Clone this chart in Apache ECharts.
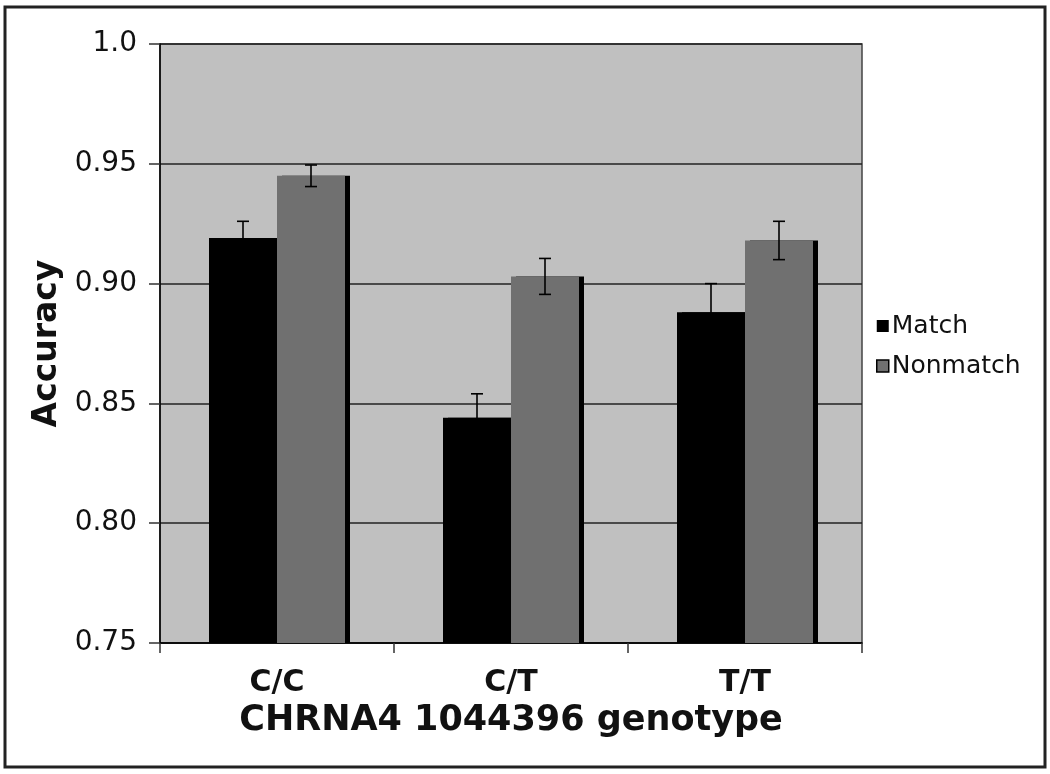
<!DOCTYPE html>
<html>
<head>
<meta charset="utf-8">
<script src="https://cdn.jsdelivr.net/npm/echarts@6/dist/echarts.min.js"></script>
<style>
html,body{margin:0;padding:0;background:#fff;}
#chart{width:1050px;height:774px;}
</style>
</head>
<body>
<div id="chart"></div>
<script>
const categories = ['C/C', 'C/T', 'T/T'];
const seriesNames = ['Match', 'Nonmatch'];
const matchValues = [0.919, 0.844, 0.888];
const matchErrors = [0.007, 0.010, 0.012];
const nonmatchValues = [0.945, 0.903, 0.918];
const nonmatchErrors = [0.0045, 0.0075, 0.008];
const yTicks = { min: 0.75, max: 1.0, interval: 0.05 };
const yTickLabels = { 0.75: '0.75', 0.8: '0.80', 0.85: '0.85', 0.9: '0.90', 0.95: '0.95', 1: '1.0' };

const FONT = 'DejaVu Sans';
const BAR_W = 68;

function errorSeries(name, values, errors, offset) {
  return {
    type: 'custom',
    name: name + ' error',
    z: 5,
    silent: true,
    data: values.map((v, i) => [i, v - errors[i], v + errors[i]]),
    renderItem: function (params, api) {
      const lo = api.coord([api.value(0), api.value(1)]);
      const hi = api.coord([api.value(0), api.value(2)]);
      const x = lo[0] + offset;
      const cap = 6;
      const style = { stroke: '#000', lineWidth: 1.6 };
      return {
        type: 'group',
        children: [
          { type: 'line', shape: { x1: x, y1: lo[1], x2: x, y2: hi[1] }, style: style },
          { type: 'line', shape: { x1: x - cap, y1: hi[1], x2: x + cap, y2: hi[1] }, style: style },
          { type: 'line', shape: { x1: x - cap, y1: lo[1], x2: x + cap, y2: lo[1] }, style: style }
        ]
      };
    }
  };
}

const chart = echarts.init(document.getElementById('chart'), null, { renderer: 'canvas' });
chart.setOption({
  animation: false,
  backgroundColor: '#fff',
  textStyle: { fontFamily: FONT },
  graphic: [{
    type: 'rect',
    shape: { x: 5, y: 7, width: 1040, height: 760 },
    style: { fill: 'none', stroke: '#222', lineWidth: 3 },
    z: 100
  }],
  grid: {
    left: 160, right: 188, top: 44, bottom: 131,
    show: true, backgroundColor: '#c0c0c0', borderColor: '#444', borderWidth: 1.5
  },
  legend: {
    orient: 'vertical',
    left: 871, top: 307,
    itemWidth: 12, itemHeight: 12, itemGap: 12,
    icon: 'rect',
    textStyle: { fontFamily: FONT, fontSize: 25, color: '#111', lineHeight: 28, padding: [0, 0, 0, -2] },
    data: [
      { name: 'Match', itemStyle: { color: '#000', borderWidth: 0, shadowBlur: 0, shadowOffsetX: 0, shadowOffsetY: 0, shadowColor: 'transparent' } },
      { name: 'Nonmatch', itemStyle: { color: '#707070', borderColor: '#000', borderWidth: 1.5, shadowBlur: 0, shadowOffsetX: 0, shadowOffsetY: 0, shadowColor: 'transparent' } }
    ]
  },
  xAxis: {
    type: 'category',
    data: categories,
    name: 'CHRNA4 1044396 genotype',
    nameLocation: 'middle',
    nameGap: 60,
    nameTextStyle: { fontFamily: FONT, fontSize: 35, fontWeight: 'bold', color: '#111' },
    axisLine: { lineStyle: { color: '#000', width: 1.5 } },
    axisTick: { show: true, length: 10, inside: false, alignWithLabel: false, lineStyle: { color: '#333', width: 1.5 } },
    axisLabel: { fontFamily: FONT, fontSize: 30, fontWeight: 'bold', color: '#111', margin: 25 },
    splitLine: { show: false }
  },
  yAxis: {
    type: 'value',
    min: yTicks.min, max: yTicks.max, interval: yTicks.interval,
    name: 'Accuracy',
    nameLocation: 'middle',
    nameGap: 96,
    nameRotate: 90,
    nameTextStyle: { fontFamily: FONT, fontSize: 33, fontWeight: 'bold', color: '#111' },
    axisLine: { show: true, lineStyle: { color: '#000', width: 1.5 } },
    axisTick: { show: true, length: 11, lineStyle: { color: '#333', width: 1.5 } },
    axisLabel: {
      fontFamily: FONT, fontSize: 28, color: '#111', margin: 23,
      formatter: v => yTickLabels[Math.round(v * 100) / 100] || v.toFixed(2)
    },
    splitLine: { show: true, lineStyle: { color: '#222', width: 1.5 } }
  },
  series: [
    {
      type: 'bar', name: 'Match', data: matchValues,
      barWidth: BAR_W, barGap: '0%',
      itemStyle: { color: '#000', shadowColor: '#000', shadowOffsetX: 5, shadowOffsetY: 0, shadowBlur: 0 }
    },
    {
      type: 'bar', name: 'Nonmatch', data: nonmatchValues,
      barWidth: BAR_W, barGap: '0%',
      itemStyle: { color: '#707070', shadowColor: '#000', shadowOffsetX: 5, shadowOffsetY: 0, shadowBlur: 0 }
    },
    errorSeries('Match', matchValues, matchErrors, -BAR_W / 2),
    errorSeries('Nonmatch', nonmatchValues, nonmatchErrors, BAR_W / 2)
  ]
});
</script>
</body>
</html>
